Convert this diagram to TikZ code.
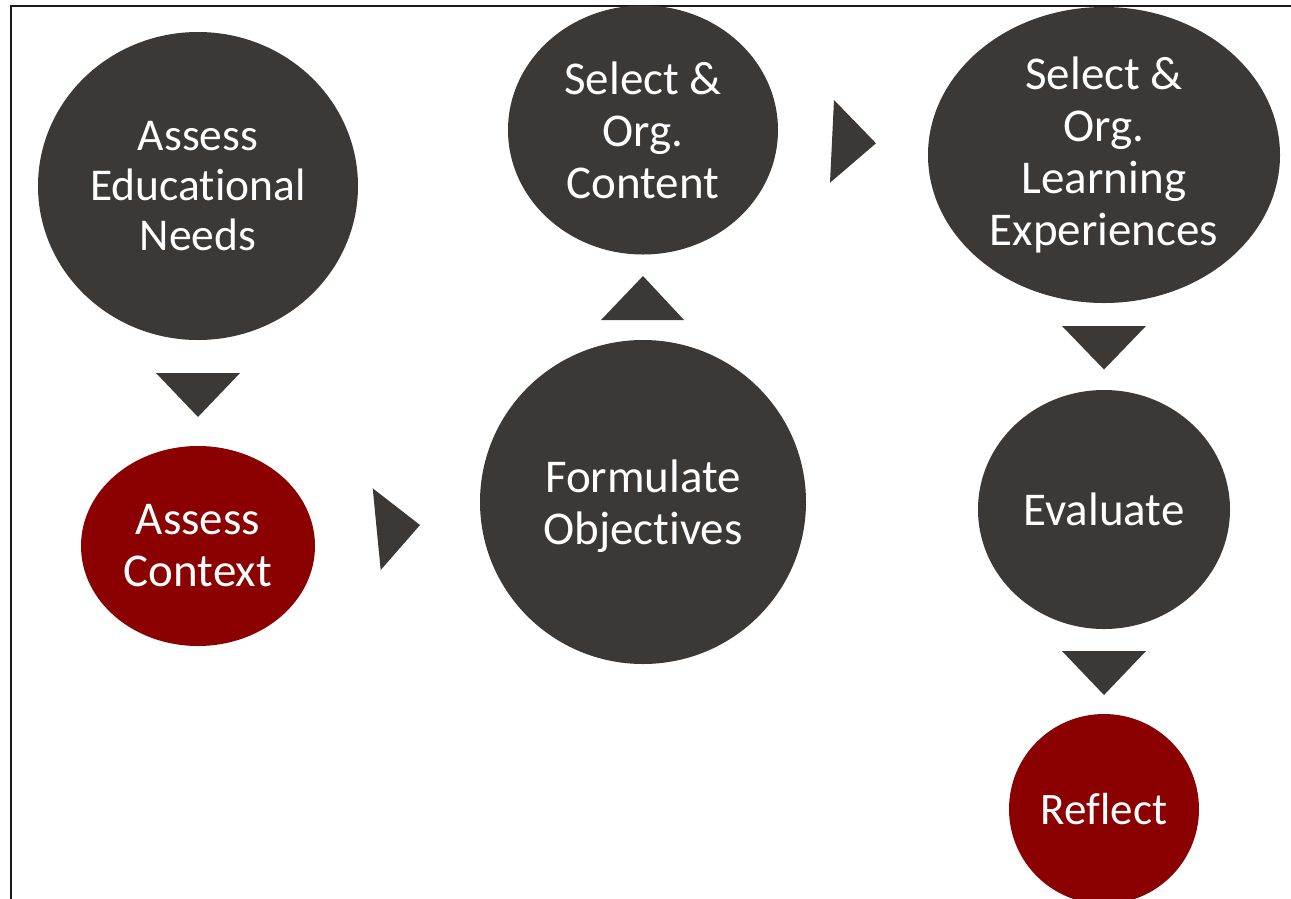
\documentclass[tikz,border=0pt]{standalone}
\usepackage{fontspec}
\setmainfont[Ligatures=NoCommon]{Carlito}
\usetikzlibrary{shapes.geometric}
\definecolor{stagegrey}{RGB}{59,56,54}
\definecolor{stagered}{RGB}{139,0,0}
\definecolor{framegrey}{RGB}{26,26,26}
\begin{document}
\begin{tikzpicture}[x=1pt,y=-1pt,
  stage/.style={ellipse, fill=stagegrey, text=white, inner sep=0pt,
    align=center, font=\fontsize{47}{52}\selectfont},
  keystage/.style={stage, fill=stagered},
  pointer/.style={fill=stagegrey}]
\useasboundingbox (0,0) rectangle (1291,898);
% frame edges
\draw[framegrey, line width=2pt] (11,900) -- (11,6) -- (1293,6);

% stages
\node[stage, minimum width=320pt, minimum height=308pt,
  font=\fontsize{45.5}{50}\selectfont] (needs) at (198,186) {Assess\\Educational\\Needs};
\node[keystage, minimum width=234pt, minimum height=200pt] (context) at (198,546) {Assess\\Context};
\node[stage, minimum width=326pt, minimum height=324pt, text depth=0pt] (objectives) at (643,502) {Formulate\\Objectives};
\node[stage, minimum width=270pt, minimum height=249pt] (content) at (643,130) {Select \&\\Org.\\Content};
\node[stage, minimum width=352pt, minimum height=296pt] (experiences) at (1104,155) {Select \&\\Org.\\Learning\\Experiences};
\node[stage, minimum width=252pt, minimum height=239pt] (evaluate) at (1104,509.5) {Evaluate};
\node[keystage, minimum width=190pt, minimum height=190pt,
  font=\fontsize{45}{52}\selectfont] (reflect) at (1104,809) {Reflect};

% triangular pointers between stages
\fill[pointer] (156,373) -- (240,373) -- (198,417) -- cycle;
\fill[pointer] (372.7,488.3) -- (420,525) -- (380.7,570) -- cycle;
\fill[pointer] (601,320) -- (684,320) -- (643,276) -- cycle;
\fill[pointer] (834,100) -- (876,143.3) -- (830,182.7) -- cycle;
\fill[pointer] (1062,326) -- (1146,326) -- (1104,369.5) -- cycle;
\fill[pointer] (1062,651) -- (1146,651) -- (1104,695) -- cycle;
\end{tikzpicture}
\end{document}
